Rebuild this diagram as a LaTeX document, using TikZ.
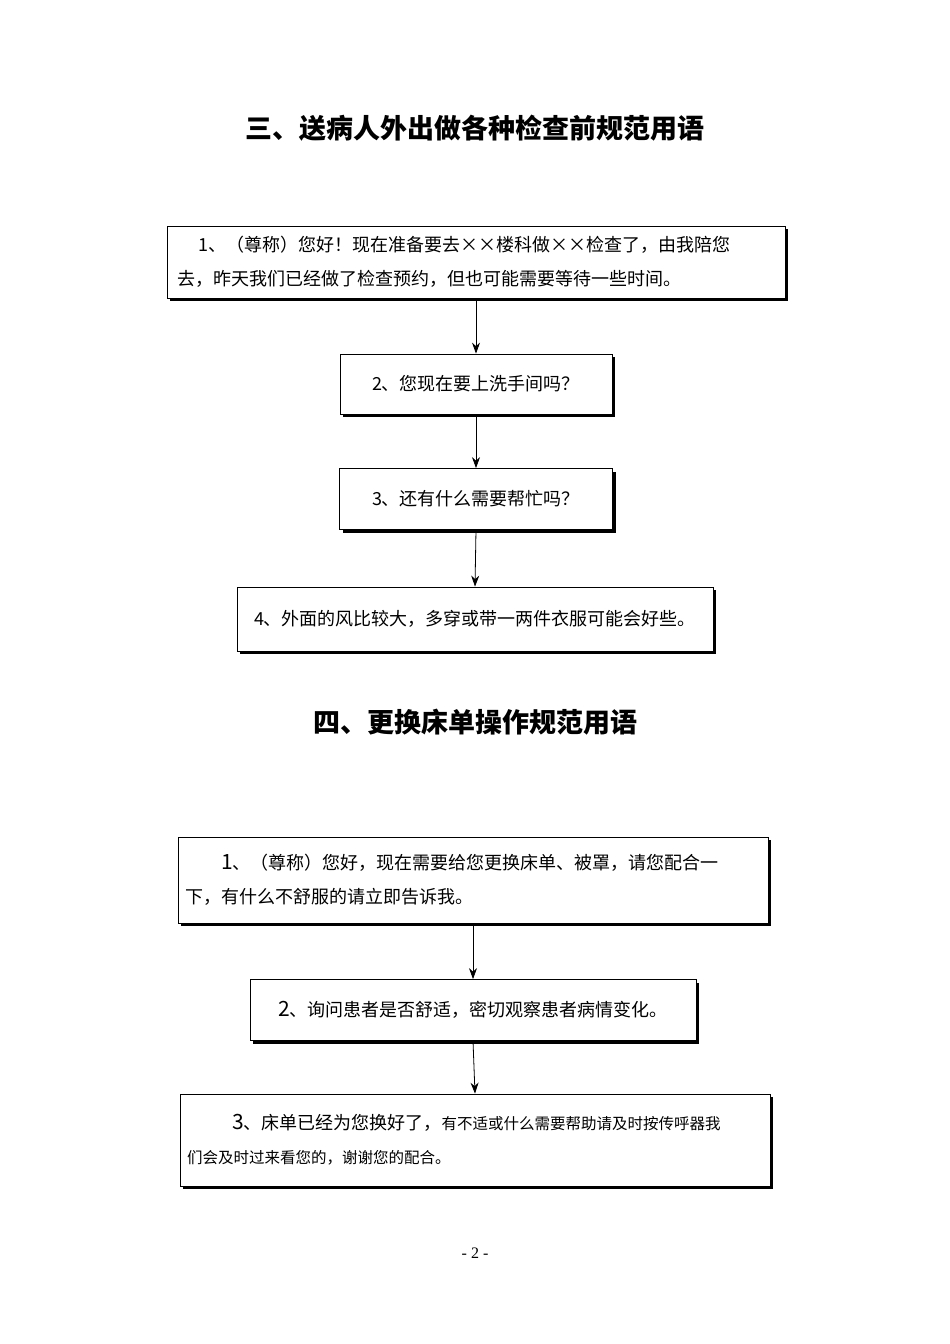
\documentclass[tikz,border=0pt]{standalone}
\usepackage{fontspec}
\setmainfont{Liberation Serif}
\newfontfamily\cjk{Noto Sans CJK SC}
\usetikzlibrary{shadows,arrows.meta}
\begin{document}
\begin{tikzpicture}[x=1pt,y=-1pt,
  box/.style={draw,thick,fill=white,inner sep=0pt,font=\cjk\fontsize{18}{34}\selectfont,
    drop shadow={shadow xshift=3pt,shadow yshift=-3pt,fill=black,opacity=1}},
  arr/.style={-{Stealth[length=11pt,width=8pt]},thick},
  ttl/.style={font=\cjk\bfseries\fontsize{27}{30}\selectfont}]
\useasboundingbox (0,0) rectangle (950,1344);
\node[ttl] (t1) at (475,128) {三、送病人外出做各种检查前规范用语};
\node[box,minimum width=618,minimum height=72,text width=598,align=left] (b1) at (476,262)
 {\hspace*{1.2em}1、（尊称）您好！现在准备要去××楼科做××检查了，由我陪您\\去，昨天我们已经做了检查预约，但也可能需要等待一些时间。};
\node[box,minimum width=272,minimum height=60] (b2) at (476,384) {2、您现在要上洗手间吗？};
\node[box,minimum width=273,minimum height=61] (b3) at (476,499) {3、还有什么需要帮忙吗？};
\node[box,minimum width=476,minimum height=64] (b4) at (475,619) {4、外面的风比较大，多穿或带一两件衣服可能会好些。};
\node[ttl] (t2) at (475,722) {四、更换床单操作规范用语};
\node[box,minimum width=590,minimum height=86,text width=576,align=left] (b5) at (473,880)
 {\hspace*{2em}{\fontsize{21}{34}\selectfont 1}、（尊称）您好，现在需要给您更换床单、被罩，请您配合一\\下，有什么不舒服的请立即告诉我。};
\node[box,minimum width=446,minimum height=61] (b6) at (473,1010) {{\fontsize{21}{30}\selectfont 2}、询问患者是否舒适，密切观察患者病情变化。};
\node[box,minimum width=590,minimum height=92,text width=576,align=left] (b7) at (475,1140)
 {\hspace*{2.5em}{\fontsize{21}{34}\selectfont 3}、床单已经为您换好了，{\fontsize{15.5}{34}\selectfont 有不适或什么需要帮助请及时按传呼器我}\\{\fontsize{15.5}{34}\selectfont 们会及时过来看您的，谢谢您的配合。}};
\draw[arr] (b1.south) -- (b2.north);
\draw[arr] (b2.south) -- (b3.north);
\draw[arr] (b3.south) -- (b4.north);
\draw[arr] (b5.south) -- (b6.north);
\draw[arr] (b6.south) -- (b7.north);
\node[font=\fontsize{16}{20}\selectfont] (pg) at (475,1253) {- 2 -};
\end{tikzpicture}
\end{document}
